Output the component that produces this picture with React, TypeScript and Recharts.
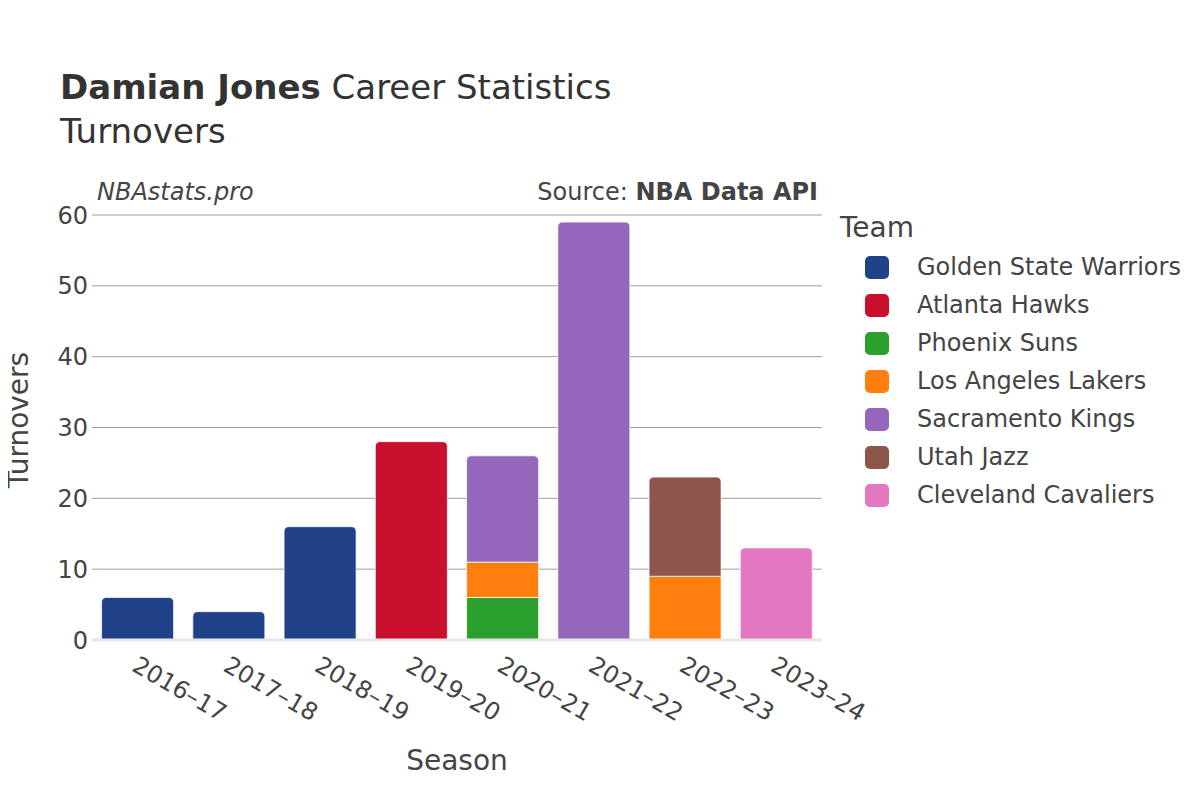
import React from 'react'
import { BarChart, Bar, XAxis, YAxis, CartesianGrid, ReferenceLine } from 'recharts'

const seasons = ['2016–17', '2017–18', '2018–19', '2019–20', '2020–21', '2021–22', '2022–23', '2023–24']
const teams = [
  'Golden State Warriors',
  'Atlanta Hawks',
  'Phoenix Suns',
  'Los Angeles Lakers',
  'Sacramento Kings',
  'Utah Jazz',
  'Cleveland Cavaliers',
]
const teamColors = ['#1f4289', '#c8102e', '#2ca02c', '#ff7f0e', '#9467bd', '#8c564b', '#e377c2']

const gsw = [6, 4, 16, 0, 0, 0, 0, 0]
const atl = [0, 0, 0, 28, 0, 0, 0, 0]
const phx = [0, 0, 0, 0, 6, 0, 0, 0]
const lal = [0, 0, 0, 0, 5, 0, 9, 0]
const sac = [0, 0, 0, 0, 15, 59, 0, 0]
const uta = [0, 0, 0, 0, 0, 0, 14, 0]
const cle = [0, 0, 0, 0, 0, 0, 0, 13]
const yTicks = [0, 10, 20, 30, 40, 50, 60]

const seriesValues = [gsw, atl, phx, lal, sac, uta, cle]
const keys = ['s0', 's1', 's2', 's3', 's4', 's5', 's6']

const rows = seasons.map((season, i) => {
  const row: any = { season }
  keys.forEach((k, j) => { row[k] = seriesValues[j][i] })
  return row
})

// last non-zero series in a season gets the rounded top
const topKey = (row: any) => {
  let top = ''
  keys.forEach(k => { if (row[k] > 0) top = k })
  return top
}

const makeShape = (key: string, color: string) => (props: any) => {
  const { x, y, width, height, payload } = props
  if (!height || height <= 0) return <g />
  const r = Math.min(5, height, width / 2)
  if (topKey(payload) === key) {
    const d = `M${x},${y + height} L${x},${y + r} Q${x},${y} ${x + r},${y} L${x + width - r},${y} Q${x + width},${y} ${x + width},${y + r} L${x + width},${y + height} Z`
    return <path d={d} fill={color} stroke="#ffffff" strokeOpacity={0.7} strokeWidth={1} />
  }
  return <rect x={x} y={y} width={width} height={height} fill={color} stroke="#ffffff" strokeOpacity={0.7} strokeWidth={1} />
}

const SeasonTick = ({ x, y, payload }: any) => (
  <text
    x={x - 7}
    y={y + 22}
    transform={`rotate(30, ${x - 7}, ${y + 22})`}
    textAnchor="start"
    fill="#444"
    fontSize={24}
    fontFamily="DejaVu Sans"
  >
    {payload.value}
  </text>
)

const font = 'DejaVu Sans'

export default function App() {
  return (
    <div style={{ position: 'relative', width: 1200, height: 800, margin: -8, background: '#fff', fontFamily: font, color: '#444' }}>
      <BarChart
        width={1200}
        height={800}
        data={rows}
        margin={{ top: 215, right: 378, bottom: 60, left: 32 }}
        barCategoryGap="10.5%"
      >
        <CartesianGrid vertical={false} stroke="#9e9e9e" strokeWidth={1} />
        <XAxis
          dataKey="season"
          axisLine={false}
          tickLine={false}
          height={100}
          interval={0}
          tick={<SeasonTick />}
        />
        <YAxis
          domain={[0, 60]}
          ticks={yTicks}
          axisLine={false}
          tickLine={false}
          tickSize={4}
          tickMargin={0}
          width={60}
          tick={{ fill: '#444', fontSize: 24, fontFamily: font }}
        />
        <ReferenceLine y={0} stroke="#e6e6e6" strokeWidth={3} />
        {keys.map((k, j) => (
          <Bar key={k} dataKey={k} stackId="a" isAnimationActive={false} shape={makeShape(k, teamColors[j])} />
        ))}
      </BarChart>

      {/* titles */}
      <div style={{ position: 'absolute', left: 60, top: 65, fontSize: 34, color: '#333', whiteSpace: 'nowrap', lineHeight: '44px' }}>
        <b>Damian Jones</b> Career Statistics
        <br />
        Turnovers
      </div>
      <div style={{ position: 'absolute', left: 97, top: 178, fontSize: 24, fontStyle: 'italic', color: '#444' }}>NBAstats.pro</div>
      <div style={{ position: 'absolute', right: 1200 - 818, top: 178, fontSize: 24, color: '#444', whiteSpace: 'nowrap' }}>
        Source: <b>NBA Data API</b>
      </div>

      {/* axis titles */}
      <div style={{ position: 'absolute', left: 457, top: 760, transform: 'translate(-50%, -50%)', fontSize: 28, color: '#444' }}>Season</div>
      <div style={{ position: 'absolute', left: 18, top: 420, transform: 'translate(-50%, -50%) rotate(-90deg)', fontSize: 28, color: '#444', whiteSpace: 'nowrap' }}>Turnovers</div>

      {/* legend */}
      <div style={{ position: 'absolute', left: 840, top: 211, fontSize: 28, color: '#444' }}>Team</div>
      {teams.map((t, i) => (
        <div key={t} style={{ position: 'absolute', left: 865, top: 267 + i * 38 - 14, height: 28, display: 'flex', alignItems: 'center', whiteSpace: 'nowrap' }}>
          <span style={{ display: 'inline-block', width: 24, height: 23, borderRadius: 5, background: teamColors[i] }} />
          <span style={{ marginLeft: 28, fontSize: 24, color: '#444' }}>{t}</span>
        </div>
      ))}
    </div>
  )
}
